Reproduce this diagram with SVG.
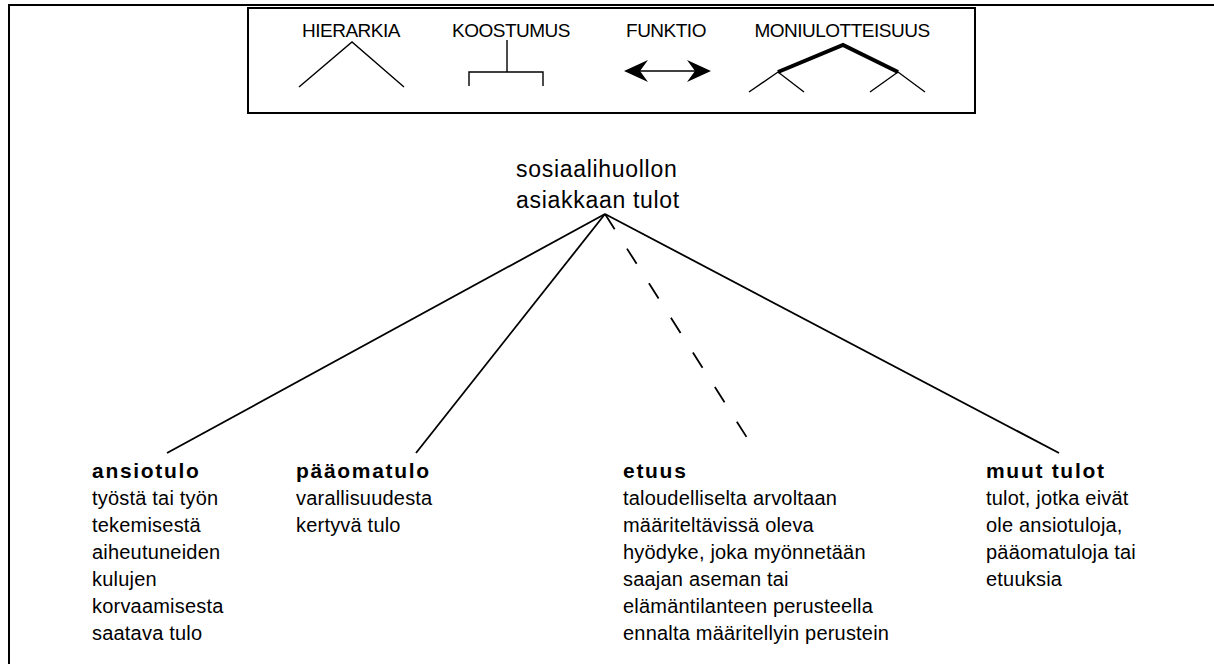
<svg xmlns="http://www.w3.org/2000/svg" width="1214" height="664" viewBox="0 0 1214 664">
<style>
.frame{fill:none;stroke:#000;stroke-width:2}
.lg{fill:none;stroke:#000;stroke-width:1.4}
.lgt{font-family:"Liberation Sans",Arial,sans-serif;font-size:19px;fill:#000;text-anchor:middle;letter-spacing:-0.5px}
.conn{fill:none;stroke:#000;stroke-width:1.8}
.title{font-family:"Liberation Sans",Arial,sans-serif;font-size:23px;fill:#000;letter-spacing:0.7px}
.h{font-family:"Liberation Sans",Arial,sans-serif;font-size:21px;font-weight:bold;fill:#000;letter-spacing:1.7px}
.b{font-family:"Liberation Sans",Arial,sans-serif;font-size:20px;fill:#000;letter-spacing:0.2px}
</style>
<rect width="1214" height="664" fill="#fff"/>
<g id="outer-frame">
<path class="frame" d="M9,664 V5 H1214"/>
</g>
<g id="legend">
<rect class="frame" x="248" y="8" width="727" height="105"/>
<text class="lgt" x="351" y="37">HIERARKIA</text>
<text class="lgt" x="511" y="37">KOOSTUMUS</text>
<text class="lgt" x="666" y="37">FUNKTIO</text>
<text class="lgt" x="842" y="37">MONIULOTTEISUUS</text>
<path class="lg" d="M299,87 L352,42 L404,87"/>
<path class="lg" d="M507,40 V72 M469,86 V72 H543 V86"/>
<path class="lg" d="M636,71 H700"/>
<polygon points="624,71 648,60 640,71 648,82" fill="#000"/>
<polygon points="711,71 687,60 695,71 687,82" fill="#000"/>
<path fill="none" stroke="#000" stroke-width="4" d="M778,72 L843,45 L898,72"/>
<path class="lg" d="M749,92 L778,72 L804,92 M870,92 L898,72 L925,92"/>
</g>
<g id="connectors">
<line class="conn" x1="605" y1="214" x2="167" y2="453"/>
<line class="conn" x1="605" y1="214" x2="416" y2="453"/>
<line class="conn" x1="605" y1="214" x2="751" y2="444" stroke-dasharray="18 23"/>
<line class="conn" x1="605" y1="214" x2="1059" y2="453"/>
</g>
<g id="root">
<text class="title" x="516" y="177">sosiaalihuollon</text>
<text class="title" x="516" y="208">asiakkaan tulot</text>
</g>
<g id="ansiotulo">
<text class="h" x="92" y="478">ansiotulo</text>
<text class="b" x="92" y="505">työstä tai työn</text>
<text class="b" x="92" y="532">tekemisestä</text>
<text class="b" x="92" y="559">aiheutuneiden</text>
<text class="b" x="92" y="586">kulujen</text>
<text class="b" x="92" y="613">korvaamisesta</text>
<text class="b" x="92" y="640">saatava tulo</text>
</g>
<g id="paaomatulo">
<text class="h" x="296" y="478">pääomatulo</text>
<text class="b" x="296" y="505">varallisuudesta</text>
<text class="b" x="296" y="532">kertyvä tulo</text>
</g>
<g id="etuus">
<text class="h" x="623" y="478">etuus</text>
<text class="b" x="623" y="505">taloudelliselta arvoltaan</text>
<text class="b" x="623" y="532">määriteltävissä oleva</text>
<text class="b" x="623" y="559">hyödyke, joka myönnetään</text>
<text class="b" x="623" y="586">saajan aseman tai</text>
<text class="b" x="623" y="613">elämäntilanteen perusteella</text>
<text class="b" x="623" y="640">ennalta määritellyin perustein</text>
</g>
<g id="muut-tulot">
<text class="h" x="986" y="478">muut tulot</text>
<text class="b" x="986" y="505">tulot, jotka eivät</text>
<text class="b" x="986" y="532">ole ansiotuloja,</text>
<text class="b" x="986" y="559">pääomatuloja tai</text>
<text class="b" x="986" y="586">etuuksia</text>
</g>
</svg>
